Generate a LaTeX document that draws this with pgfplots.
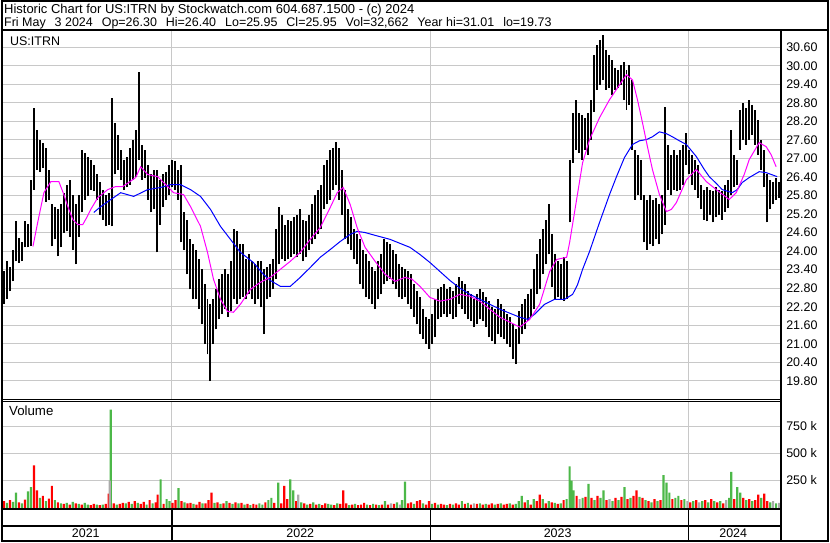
\documentclass[border=0pt]{standalone}
\usepackage{pgfplots}
\pgfplotsset{compat=1.18}
\usepackage{pgfplotstable}
\usepackage{fontspec}
\setmainfont{Liberation Sans}
\definecolor{gridgray}{RGB}{200,200,200}
\definecolor{volgreen}{RGB}{76,184,72}
\definecolor{volred}{RGB}{255,0,0}
\definecolor{volgray}{RGB}{170,170,170}
\definecolor{mablue}{RGB}{0,0,255}
\definecolor{mamag}{RGB}{255,0,255}

\pgfplotstableread{
x lo hi
3 22.28 23.34
6 22.44 23.67
9 22.70 23.47
12 23.02 24.05
15 23.67 24.96
18 23.63 24.44
21 23.67 24.31
24 24.12 24.96
27 24.12 24.89
30 24.15 26.31
33 25.99 28.64
36 26.64 27.93
39 26.57 27.61
42 26.70 27.51
45 25.60 27.35
48 25.67 26.64
51 24.15 25.51
54 24.38 25.44
57 23.83 25.35
60 24.12 25.51
63 24.60 25.89
66 24.64 26.15
69 24.47 26.31
72 24.05 25.83
75 23.57 25.51
78 24.47 25.83
81 25.25 27.28
84 25.67 27.19
87 25.77 27.03
90 25.99 26.96
93 25.93 26.80
96 25.67 26.48
99 25.18 26.25
102 25.02 25.99
105 24.80 25.83
108 24.86 25.89
111 24.80 28.96
114 26.48 28.16
117 26.64 27.77
120 26.31 27.28
123 25.99 26.96
126 26.06 27.03
129 26.15 27.35
132 26.31 27.61
135 26.41 27.93
138 26.96 29.80
141 26.31 27.45
144 26.38 27.28
147 25.67 26.80
150 25.25 26.48
153 25.35 26.64
156 23.96 26.64
159 24.86 26.31
162 25.44 26.48
165 25.67 26.57
168 25.83 26.80
171 26.06 26.96
174 25.99 26.90
177 25.67 26.64
180 24.28 26.80
183 24.05 25.25
186 23.25 25.02
189 22.76 24.38
192 22.44 24.22
195 22.44 24.05
198 22.12 23.73
201 21.63 23.41
204 20.99 22.92
207 20.66 22.44
210 19.79 22.28
213 20.99 22.44
216 21.47 22.76
219 21.79 23.09
222 21.96 23.25
225 22.12 23.41
228 21.86 23.25
231 22.05 23.67
234 22.44 24.70
237 22.28 24.64
240 22.44 24.22
243 22.50 24.22
246 22.44 23.73
249 22.60 23.89
252 22.44 23.67
255 22.28 23.57
258 22.44 23.67
261 22.18 23.67
264 21.31 23.41
267 22.44 23.47
270 22.50 23.57
273 22.76 23.73
276 23.09 24.70
279 23.57 25.44
282 23.73 25.18
285 23.67 24.86
288 23.73 25.02
291 23.80 24.96
294 23.89 25.09
297 23.80 25.18
300 23.89 25.35
303 23.67 25.02
306 23.80 24.96
309 24.05 25.18
312 24.22 25.51
315 24.38 25.83
318 24.54 25.99
321 24.70 26.15
324 25.35 26.80
327 25.51 26.96
330 25.67 27.28
333 25.99 27.35
336 26.15 27.54
339 25.67 27.35
342 25.18 26.64
345 24.38 25.99
348 24.22 25.35
351 24.05 25.09
354 23.73 24.70
357 23.57 24.54
360 22.92 24.38
363 22.76 24.05
366 22.50 23.89
369 22.44 23.67
372 22.28 23.47
375 22.12 23.34
378 22.44 23.67
381 22.60 23.89
384 22.92 24.38
387 23.02 24.31
390 23.09 24.22
393 22.92 24.05
396 22.76 23.89
399 22.50 23.57
402 22.44 23.47
405 22.50 23.41
408 22.28 23.34
411 22.12 23.25
414 21.86 22.92
417 21.63 22.70
420 21.31 22.50
423 21.15 22.12
426 20.99 21.86
429 20.83 21.79
432 20.99 21.96
435 21.21 22.44
438 21.79 22.76
441 21.86 22.83
444 21.96 22.92
447 21.86 22.76
450 21.96 22.83
453 21.79 22.70
456 21.86 22.92
459 22.28 23.15
462 22.12 23.02
465 21.96 22.92
468 21.79 22.70
471 21.73 22.60
474 21.54 22.44
477 21.63 22.60
480 21.79 22.76
483 21.73 22.67
486 21.54 22.50
489 21.21 22.38
492 21.08 22.18
495 20.99 22.12
498 21.31 22.44
501 21.21 22.28
504 21.15 22.12
507 20.99 21.96
510 20.89 21.86
513 20.50 21.63
516 20.34 21.47
519 20.99 22.05
522 21.31 22.28
525 21.47 22.44
528 21.73 22.60
531 21.86 22.76
534 22.12 23.41
537 22.60 23.89
540 22.76 24.38
543 23.25 24.70
546 23.57 25.02
549 23.89 25.51
552 22.83 24.54
555 22.44 23.89
558 22.50 23.67
561 22.44 23.57
564 22.38 23.80
567 22.44 23.67
570 24.93 26.96
573 26.86 28.48
576 27.28 28.90
579 27.19 28.48
582 26.96 28.41
585 27.28 28.32
588 27.12 28.48
591 27.61 28.90
594 28.51 30.35
597 29.22 30.67
600 29.38 30.84
603 29.54 31.00
606 29.22 30.51
609 29.29 30.35
612 29.06 30.19
615 29.22 29.93
618 29.29 29.87
621 29.38 30.03
624 28.90 30.13
627 28.58 29.87
630 28.74 30.03
633 27.28 29.54
636 25.67 27.28
639 25.83 27.12
642 25.67 26.96
645 24.28 25.83
648 24.05 25.67
651 24.22 25.83
654 24.15 25.67
657 24.38 25.73
660 24.22 25.51
663 24.54 25.83
666 24.86 28.67
669 25.99 27.45
672 25.83 27.12
675 25.99 27.28
678 25.93 27.12
681 25.99 27.28
684 26.15 27.45
687 26.80 27.83
690 26.48 27.28
693 26.15 27.12
696 25.99 26.96
699 25.73 26.80
702 25.35 26.15
705 25.02 25.99
708 24.96 26.06
711 25.18 25.99
714 24.93 25.93
717 25.09 26.06
720 25.18 25.99
723 25.02 25.93
726 25.28 26.15
729 25.41 26.31
732 25.83 27.93
735 26.09 27.12
738 26.15 26.96
741 27.28 28.58
744 27.61 28.80
747 27.45 28.64
750 27.61 28.90
753 27.77 28.74
756 27.45 28.58
759 27.12 28.25
762 26.64 27.61
765 26.06 27.28
768 24.93 26.48
771 25.35 26.31
774 25.51 26.25
777 25.67 26.38
780 25.73 26.25
}\price

\pgfplotstableread{
x y
32 24.15
37 24.96
43 25.89
50 26.25
58 26.25
63 25.83
67 25.44
72 25.02
77 24.86
82 24.86
86 25.09
90 25.35
97 25.73
107 25.99
115 26.09
122 26.09
128 26.22
135 26.38
140 26.73
147 26.48
157 26.41
167 26.09
173 25.89
183 25.83
190 25.44
200 24.80
207 23.96
213 23.09
220 22.44
227 22.05
233 22.02
240 22.28
250 22.76
260 22.99
270 23.15
280 23.41
290 23.67
300 23.96
310 24.38
320 24.76
330 25.41
337 25.89
343 26.06
350 25.51
357 24.76
365 24.12
375 23.67
385 23.25
395 23.02
405 23.15
412 23.09
420 22.86
430 22.50
440 22.38
450 22.44
460 22.60
470 22.54
480 22.38
490 22.12
500 21.86
510 21.70
520 21.54
530 21.79
540 22.28
550 23.34
557 23.73
567 23.80
570 24.28
577 25.67
583 26.86
590 27.61
600 28.32
610 28.90
620 29.38
627 29.71
633 29.54
638 28.90
643 28.16
648 27.38
653 26.64
660 25.83
667 25.28
672 25.35
677 25.57
687 26.31
697 26.64
707 26.25
717 25.99
730 25.67
737 25.89
745 26.48
750 26.96
760 27.51
767 27.38
772 27.12
777 26.73
}\mashort

\pgfplotstableread{
x y
93 25.25
100 25.44
107 25.60
120 25.89
133 25.77
147 25.99
160 26.06
170 26.15
180 26.15
190 25.99
200 25.77
210 25.35
220 24.80
230 24.38
240 23.96
253 23.63
263 23.25
270 23.05
280 22.86
290 22.86
300 23.15
310 23.47
320 23.80
330 24.05
340 24.31
350 24.54
357 24.64
365 24.60
375 24.51
390 24.38
400 24.25
410 24.12
420 23.89
430 23.63
440 23.34
450 23.05
460 22.80
470 22.60
480 22.44
490 22.28
500 22.12
510 21.99
520 21.86
528 21.79
535 21.96
545 22.28
555 22.44
565 22.44
573 22.60
578 22.92
583 23.41
590 23.99
600 24.93
610 25.83
617 26.41
625 27.03
633 27.45
640 27.57
647 27.61
653 27.70
660 27.86
667 27.80
673 27.70
680 27.57
687 27.45
697 27.06
705 26.64
710 26.41
717 26.19
723 25.99
733 25.89
738 25.99
743 26.22
750 26.38
760 26.57
767 26.54
778 26.41
}\malong

\pgfplotstableread{
x v
3 60
9 70
18 50
24 75
33 390
36 160
42 110
48 85
51 200
57 50
63 35
69 30
75 40
81 30
90 25
93 35
99 25
105 35
108 130
113 40
119 35
122 45
128 55
134 60
140 35
143 55
149 70
155 50
157 120
163 35
172 45
175 70
181 60
187 40
190 45
196 30
199 55
205 40
208 70
211 140
217 50
223 40
229 45
235 50
241 45
247 35
253 35
256 30
265 50
274 45
281 40
284 200
287 80
296 60
304 40
310 35
316 30
322 25
325 40
334 25
340 35
343 160
346 40
352 30
358 25
361 30
364 45
370 25
376 30
382 30
388 30
394 35
408 40
411 50
417 60
420 70
426 30
429 60
435 45
441 35
444 30
450 35
456 40
459 30
465 35
471 30
477 35
483 30
489 30
492 40
498 35
504 30
507 35
513 30
525 50
531 30
537 60
540 120
546 40
552 50
558 35
564 70
577 110
586 100
592 90
598 110
607 70
616 90
622 100
628 80
634 110
637 160
643 90
649 60
655 80
661 70
673 80
682 70
691 50
697 70
706 70
712 80
718 50
724 40
735 80
744 90
750 80
756 70
759 120
765 130
768 60
}\volr

\pgfplotstableread{
x v
6 45
12 55
15 140
21 40
27 150
30 190
39 90
45 60
54 70
60 40
66 45
72 55
78 35
84 45
87 30
96 30
102 30
110 900
116 30
125 40
131 35
137 45
146 30
152 40
160 260
166 80
169 60
178 180
184 50
193 35
202 40
214 45
220 35
226 60
232 35
238 40
244 30
250 25
259 40
262 30
268 70
271 90
278 230
290 260
293 160
301 50
307 30
313 50
319 35
328 35
331 30
337 40
349 25
355 35
367 30
373 35
379 25
385 60
397 50
402 70
405 240
414 35
423 40
432 35
438 30
447 25
453 30
462 60
468 45
480 40
486 35
495 30
501 40
510 40
516 35
519 60
522 110
528 70
534 80
543 80
549 60
555 45
561 40
567 80
570 380
572 250
574 160
583 90
589 220
595 70
601 90
604 160
613 60
619 70
625 190
631 90
640 100
646 70
652 50
658 60
664 300
667 230
670 140
676 90
679 110
685 80
694 60
703 60
709 50
715 60
721 60
730 90
732 330
738 190
741 140
747 70
753 60
762 90
771 50
777 40
}\volg

\pgfplotstableread{
x v
109 250
298 120
391 40
400 30
474 40
580 80
610 80
688 60
700 50
727 70
774 60
780 45
}\volgr

\begin{document}
\begin{tikzpicture}[x=1pt,y=1pt]
\fill[white] (0pt,0pt) rectangle (830pt,543pt);

% price panel
\begin{axis}[at={(2pt,143pt)}, anchor=south west, scale only axis,
  width=779pt, height=369pt,
  xmin=2, xmax=781, ymin=19.212, ymax=31.126,
  axis line style={draw=none}, major tick length=0pt,
  xtick={171.3,430.5,689.3}, xticklabels={},
  ytick={19.8,20.4,21.0,21.6,22.2,22.8,23.4,24.0,24.6,25.2,25.8,26.4,27.0,27.6,28.2,28.8,29.4,30.0,30.6},
  yticklabels={19.80,20.40,21.00,21.60,22.20,22.80,23.40,24.00,24.60,25.20,25.80,26.40,27.00,27.60,28.20,28.80,29.40,30.00,30.60},
  yticklabel pos=right,
  yticklabel style={anchor=west, inner sep=0pt, xshift=6pt, font=\fontsize{12.5}{14}\selectfont},
  grid=major, major grid style={gridgray, line width=1pt},
  clip=true]
\addplot[draw=none, mark=none, forget plot,
  error bars/.cd, y dir=plus, y explicit, error mark=none,
  error bar style={draw=black, line width=2pt}]
  table[x=x, y=lo, y error expr=\thisrow{hi}-\thisrow{lo}] {\price};
\addplot[mablue, line width=1pt, mark=none] table[x=x,y=y] {\malong};
\addplot[mamag, line width=1pt, mark=none] table[x=x,y=y] {\mashort};
\end{axis}

% volume panel
\begin{axis}[at={(2pt,34pt)}, anchor=south west, scale only axis,
  width=779pt, height=106pt,
  xmin=2, xmax=781, ymin=0, ymax=970,
  axis line style={draw=none}, major tick length=0pt,
  xtick={171.3,430.5,689.3}, xticklabels={},
  ytick={250,500,750}, yticklabels={250 k,500 k,750 k},
  yticklabel pos=right,
  yticklabel style={anchor=west, inner sep=0pt, xshift=6pt, font=\fontsize{12.5}{14}\selectfont},
  grid=major, major grid style={gridgray, line width=1pt},
  clip=true]
\addplot[ybar, bar width=2.2pt, bar shift=0pt, fill=volred, draw=none] table[x=x,y=v] {\volr};
\addplot[ybar, bar width=2.2pt, bar shift=0pt, fill=volgreen, draw=none] table[x=x,y=v] {\volg};
\addplot[ybar, bar width=2.2pt, bar shift=0pt, fill=volgray, draw=none] table[x=x,y=v] {\volgr};
\end{axis}

% frames
\draw[line width=2pt] (1pt,1pt) rectangle (829pt,542pt);
\draw[line width=2pt] (0pt,512.5pt) -- (830pt,512.5pt);
\draw[line width=2pt] (782pt,512.5pt) -- (782pt,0pt);
\draw[line width=1.2pt] (0pt,142.5pt) -- (782pt,142.5pt);
\draw[line width=1.2pt] (0pt,140.5pt) -- (782pt,140.5pt);
\draw[line width=2pt] (0pt,33pt) -- (782pt,33pt);
\draw[line width=2pt] (0pt,16pt) -- (782pt,16pt);
\foreach \xx in {171.3,430.5,689.3} \draw[line width=1.5pt] (\xx pt,33pt) -- (\xx pt,1pt);

% texts
\node[anchor=base west, inner sep=0pt, font=\fontsize{13}{15}\selectfont] at (3pt,529pt) {Historic Chart for US:ITRN by Stockwatch.com 604.687.1500 - (c) 2024};
\node[anchor=base west, inner sep=0pt, font=\fontsize{12.5}{15}\selectfont] at (3pt,516pt) {Fri May\hspace{9pt}3 2024\hspace{9pt}Op=26.30\hspace{9pt}Hi=26.40\hspace{9pt}Lo=25.95\hspace{9pt}Cl=25.95\hspace{9pt}Vol=32,662\hspace{9pt}Year hi=31.01\hspace{9pt}lo=19.73};
\node[anchor=base west, inner sep=0pt, font=\fontsize{12.5}{14}\selectfont] at (9pt,497pt) {US:ITRN};
\node[anchor=base west, inner sep=0pt, font=\fontsize{13.3}{15}\selectfont] at (8pt,126pt) {Volume};
\foreach \xx/\yy in {85/2021,300/2022,558/2023,734/2024}
  \node[anchor=base, inner sep=0pt, font=\fontsize{12.5}{14}\selectfont] at (\xx pt,4pt) {\yy};
\end{tikzpicture}
\end{document}
